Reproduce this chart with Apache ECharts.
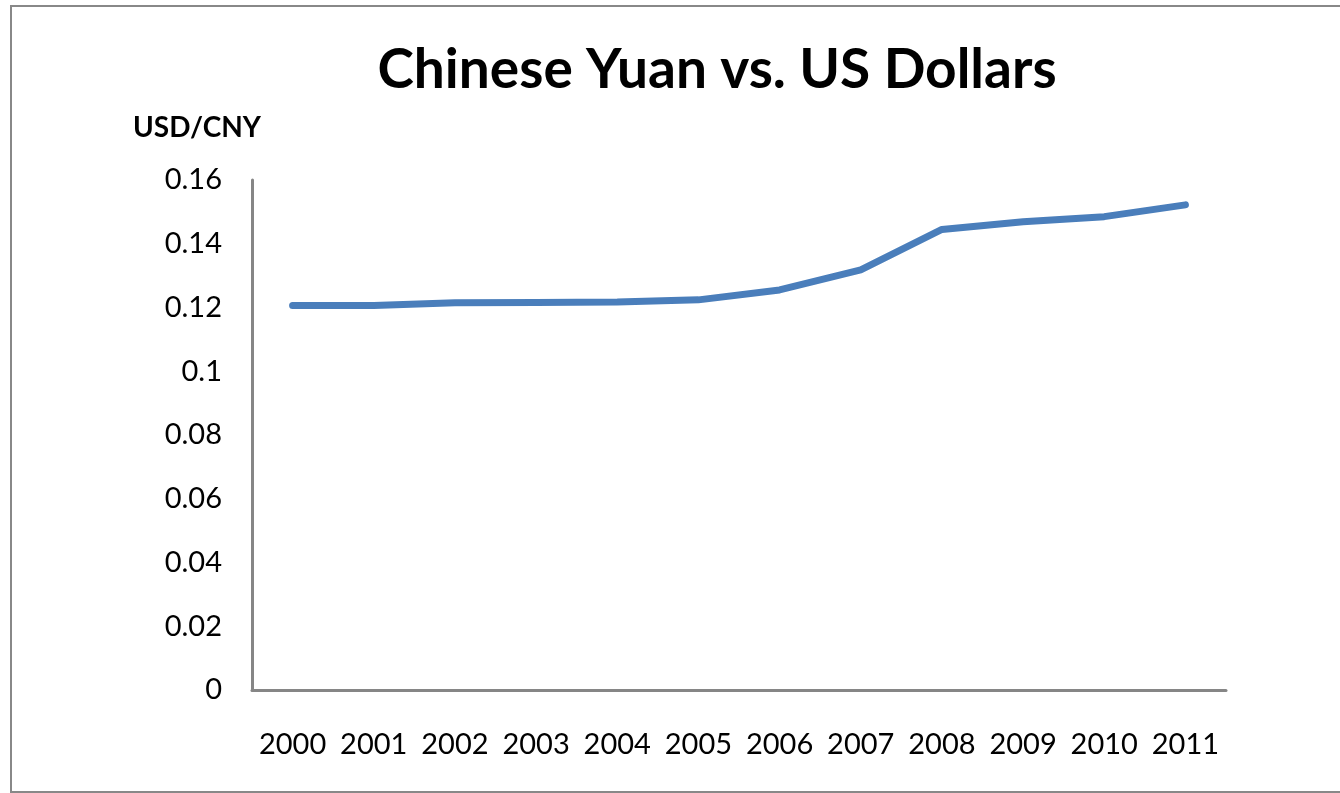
<!DOCTYPE html>
<html><head><meta charset="utf-8">
<script src="https://cdn.jsdelivr.net/npm/echarts@6/dist/echarts.min.js"></script>
<style>html,body{margin:0;padding:0;background:#fff}#c{width:1340px;height:793px}</style>
</head><body><div id="c"></div>
<script>
const years = ['2000','2001','2002','2003','2004','2005','2006','2007','2008','2009','2010','2011'];
const usdPerCny = [0.1206,0.1206,0.1215,0.1216,0.1217,0.1224,0.1255,0.1318,0.1445,0.1469,0.1485,0.1522];
const yTicks = {min:0, max:0.16, interval:0.02};
const FONT = 'Lato, "Open Sans", sans-serif';
const chart = echarts.init(document.getElementById('c'));
chart.setOption({
  backgroundColor:'#fff',
  animation:false,
  graphic:[{type:'rect',shape:{x:11,y:6,width:1340,height:786},style:{fill:'none',stroke:'#888',lineWidth:2},silent:true}],
  title:{text:'Chinese Yuan vs. US Dollars',left:712,top:38,textAlign:'center',
    textStyle:{fontFamily:FONT,fontWeight:'bold',fontSize:55,color:'#000'}},
  grid:{left:252,right:114,top:180,bottom:103,containLabel:false},
  xAxis:{type:'category',data:years,boundaryGap:true,
    axisLine:{lineStyle:{color:'#868686',width:3}},axisTick:{show:false},
    axisLabel:{fontFamily:FONT,fontSize:29,color:'#000',margin:40,interval:0}},
  yAxis:{type:'value',min:yTicks.min,max:yTicks.max,interval:yTicks.interval,
    name:'USD/CNY',nameLocation:'end',nameGap:38,nameTextStyle:{fontFamily:FONT,fontWeight:'bold',fontSize:28,color:'#000',align:'center',padding:[0,0,0,-110]},
    axisLine:{show:true,lineStyle:{color:'#868686',width:3}},axisTick:{show:false},splitLine:{show:false},
    axisLabel:{fontFamily:FONT,fontSize:29,color:'#000',margin:30,formatter:v=>String(+v.toFixed(2))}},
  series:[{type:'line',data:usdPerCny,symbol:'none',lineStyle:{color:'#4a7ebb',width:7,cap:'round',join:'round'}}]
});
</script></body></html>
